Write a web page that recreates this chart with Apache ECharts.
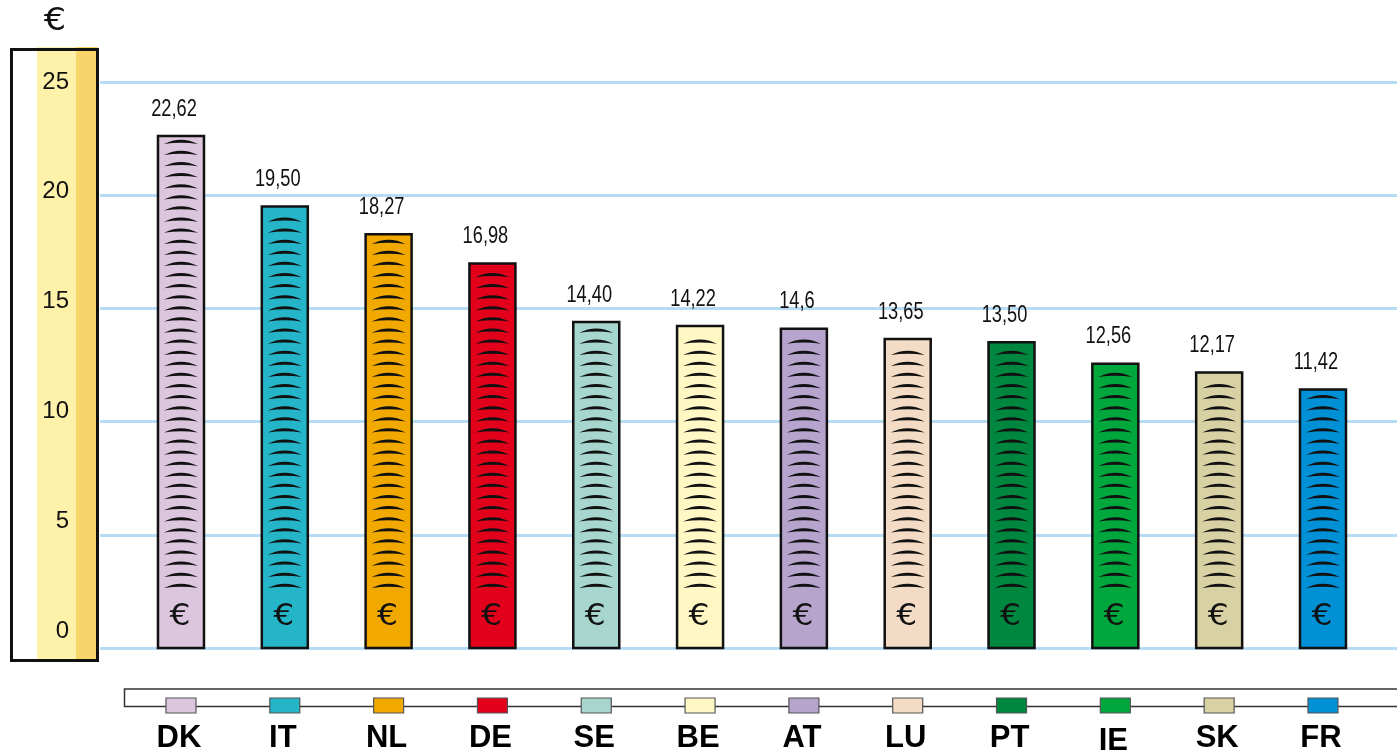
<!DOCTYPE html>
<html>
<head>
<meta charset="utf-8">
<script src="https://cdn.jsdelivr.net/npm/echarts@6/dist/echarts.min.js"></script>
<style>
  html, body { margin: 0; padding: 0; background: #fff; }
  #chart { width: 1397px; height: 752px; }
</style>
</head>
<body>
<div id="chart"></div>
<script>
// ---- data ----
const categories = ['DK', 'IT', 'NL', 'DE', 'SE', 'BE', 'AT', 'LU', 'PT', 'IE', 'SK', 'FR'];
// bar heights
const values = [22.62, 19.5, 18.27, 16.98, 14.40, 14.22, 14.1, 13.65, 13.5, 12.56, 12.17, 11.42];
// value labels as printed in the picture
const valueLabels = ['22,62', '19,50', '18,27', '16,98', '14,40', '14,22', '14,6', '13,65', '13,50', '12,56', '12,17', '11,42'];
const colors = ['#DCC6DE', '#25B5C9', '#F1A900', '#E2001A', '#A7D6CF', '#FFF8C5', '#B6A4CD', '#F3DBC5', '#00873F', '#00A73C', '#D8D1A3', '#0090D5'];
const yTicks = [0, 5, 10, 15, 20, 25];

const chart = echarts.init(document.getElementById('chart'));

function renderItem(params, api) {
  const i = api.value(0);
  const v = api.value(1);
  const top = api.coord([i, v]);
  const base = api.coord([i, 0]);
  const cx = base[0];
  const children = [];
  // bar body
  children.push({
    type: 'rect',
    shape: { x: cx - 23, y: top[1], width: 46, height: base[1] - top[1] },
    style: { fill: colors[i], stroke: '#111', lineWidth: 2.5 }
  });
  // coin-edge arcs
  let d = '';
  const step = 11.1;
  for (let y = base[1] - 60; y >= top[1] + 7; y -= step) {
    const x0 = cx - 17, x1 = cx + 17;
    d += 'M' + x0 + ' ' + y + ' Q' + cx + ' ' + (y - 8.5) + ' ' + x1 + ' ' + y +
         ' Q' + cx + ' ' + (y - 2.5) + ' ' + x0 + ' ' + y + ' Z ';
  }
  if (d) {
    children.push({ type: 'path', shape: { pathData: d }, style: { fill: '#111' } });
  }
  // euro sign
  children.push({
    type: 'text',
    x: cx - 1, y: base[1] - 31, scaleX: 1.1,
    style: { text: '€', x: 0, y: 0, fill: '#111',
      font: '30px "DejaVu Sans", "Liberation Sans", sans-serif', align: 'center', verticalAlign: 'middle' }
  });
  // value label (condensed)
  children.push({
    type: 'text',
    x: cx - 7, y: top[1] - 27, scaleX: 0.76,
    style: { text: valueLabels[i], x: 0, y: 0, fill: '#111',
      font: '24px "Liberation Sans", Arial, sans-serif', align: 'center', verticalAlign: 'middle' }
  });
  // legend square
  children.push({
    type: 'rect',
    shape: { x: cx - 15, y: base[1] + 50, width: 30, height: 15 },
    style: { fill: colors[i], stroke: '#555', lineWidth: 1.2 }
  });
  // country code
  children.push({
    type: 'text',
    style: { text: categories[i], x: cx - 2, y: base[1] + (categories[i] === 'IE' ? 93 : 90), fill: '#000',
      font: 'bold 31px "Liberation Sans", Arial, sans-serif', align: 'center', verticalAlign: 'middle' }
  });
  return { type: 'group', children: children };
}

chart.setOption({
  animation: false,
  backgroundColor: '#fff',
  grid: { left: 100, right: 0, top: 82, bottom: 104, containLabel: false },
  xAxis: {
    type: 'value', min: -0.78, max: 11.713,
    show: false
  },
  yAxis: [
    {
      type: 'value', min: 0, max: 25, interval: 5,
      axisLine: { show: false }, axisTick: { show: false }, axisLabel: { show: false },
      splitLine: { show: true, lineStyle: { color: '#B6DCF4', width: 3 } }
    },
    {
      type: 'value', min: -0.774, max: 25, position: 'left',
      axisLine: { show: false }, axisTick: { show: false }, splitLine: { show: false },
      axisLabel: {
        show: true, customValues: yTicks, margin: 31,
        color: '#111', fontSize: 24, fontFamily: '"Liberation Sans", Arial, sans-serif'
      }
    }
  ],
  graphic: [
    { type: 'rect', z: -5, shape: { x: 37, y: 47, width: 39, height: 614 }, style: { fill: '#FEF1A9' } },
    { type: 'rect', z: -5, shape: { x: 76, y: 47, width: 22, height: 614 }, style: { fill: '#F9D46B' } },
    { type: 'rect', z: -4, shape: { x: 11.5, y: 49.5, width: 86, height: 611 }, style: { fill: 'none', stroke: '#111', lineWidth: 3 } },
    { type: 'text', z: -4, x: 55, y: 22, scaleX: 1.1, style: { text: '€', x: 0, y: 0, fill: '#111', font: '32px "DejaVu Sans", "Liberation Sans", sans-serif', align: 'center', verticalAlign: 'middle' } },
    { type: 'rect', z: -4, shape: { x: 124.5, y: 689, width: 1290, height: 17.5 }, style: { fill: '#fff', stroke: '#333', lineWidth: 1.5 } }
  ],
  series: [{
    type: 'custom',
    renderItem: renderItem,
    clip: false,
    encode: { x: 0, y: 1 },
    data: values.map((v, i) => [i, v])
  }]
});
</script>
</body>
</html>
